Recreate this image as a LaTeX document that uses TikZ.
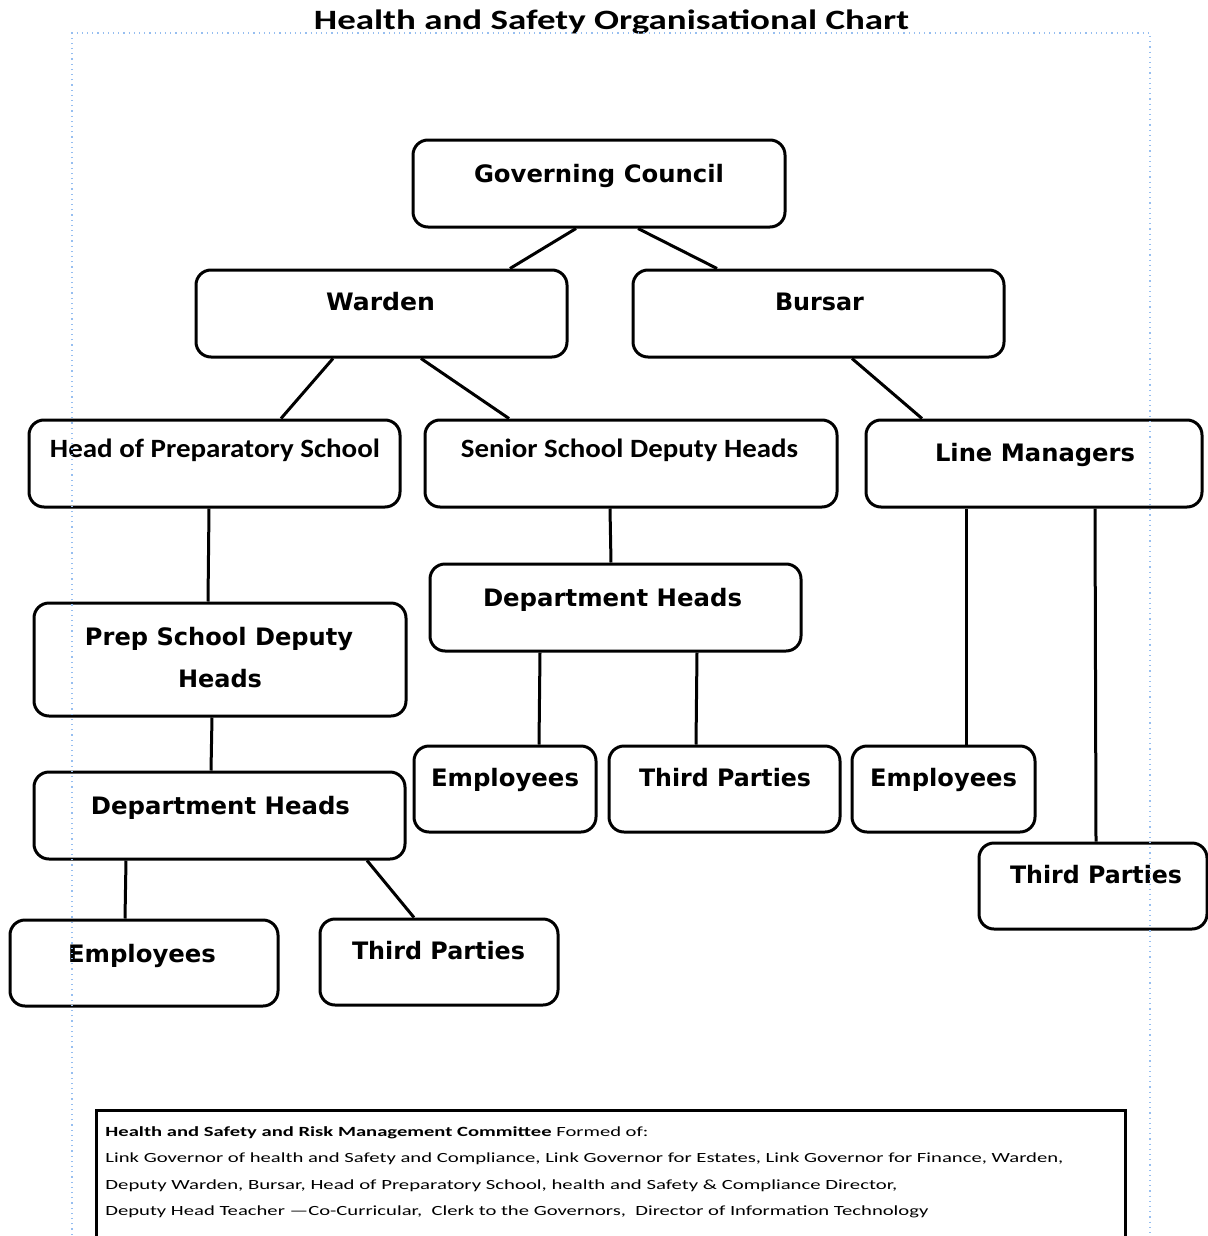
\documentclass[tikz,border=0pt]{standalone}
\usepackage{fontspec}
\setmainfont{Carlito}
\newfontfamily\boxfont{DejaVu Sans}
\newcommand{\fitw}[2]{\resizebox{#1}{\height}{#2}}
\definecolor{guide}{RGB}{150,190,240}
\begin{document}
\begin{tikzpicture}[x=0.5pt,y=-0.5pt,
  box/.style={draw, line width=1.5pt, rounded corners=7.5pt, inner sep=0pt},
  conn/.style={line width=1.5pt},
  bl/.style={anchor=base, inner sep=0pt, font=\boxfont\bfseries\fontsize{12}{14}\selectfont},
  cl/.style={anchor=base, inner sep=0pt, font=\bfseries\fontsize{13.2}{15}\selectfont},
  nl/.style={anchor=base west, inner sep=0pt, font=\fontsize{7}{8}\selectfont},
  guideline/.style={draw=guide, dotted, line width=0.6pt}]
\useasboundingbox (0,0) rectangle (1208,1236);
\clip (0,0) rectangle (1208,1236);

% title
\node[anchor=base, inner sep=0pt, font=\bfseries\fontsize{14}{16}\selectfont] (title) at (611.5,30) {\fitw{297.5pt}{Health and Safety Organisational Chart}};

% boxes
\node[box, minimum width=186pt, minimum height=43.5pt] (gc) at (599,183.5) {};
\node[box, minimum width=185.5pt, minimum height=43.5pt] (wa) at (381.5,313.5) {};
\node[box, minimum width=185.5pt, minimum height=43.5pt] (bu) at (818.5,313.5) {};
\node[box, minimum width=185.5pt, minimum height=43.5pt] (hops) at (214.5,463.5) {};
\node[box, minimum width=206pt, minimum height=43.5pt] (ssdh) at (631,463.5) {};
\node[box, minimum width=168pt, minimum height=43.5pt] (lm) at (1034,463.5) {};
\node[box, minimum width=186pt, minimum height=56.5pt] (psdh) at (220,659.5) {};
\node[box, minimum width=185.5pt, minimum height=43.5pt] (dhm) at (615.5,607.5) {};
\node[box, minimum width=185.5pt, minimum height=43.5pt] (dhl) at (219.5,815.5) {};
\node[box, minimum width=91pt, minimum height=43pt] (em) at (505,789) {};
\node[box, minimum width=115.5pt, minimum height=43pt] (tm) at (724.5,789) {};
\node[box, minimum width=91.5pt, minimum height=43pt] (er) at (943.5,789) {};
\node[box, minimum width=114pt, minimum height=43pt] (tr) at (1093,886) {};
\node[box, minimum width=134pt, minimum height=43pt] (el) at (144,963) {};
\node[box, minimum width=119pt, minimum height=43pt] (tl) at (439,962) {};

% labels
\node[bl] (gc-t) at (599,182) {\fitw{125pt}{Governing Council}};
\node[bl] (wa-t) at (380.5,310) {\fitw{54.5pt}{Warden}};
\node[bl] (bu-t) at (819.5,310) {\fitw{44.5pt}{Bursar}};
\node[cl] (hops-t) at (215,457) {\fitw{165pt}{Head of Preparatory School}};
\node[cl] (ssdh-t) at (629.5,457) {\fitw{168.5pt}{Senior School Deputy Heads}};
\node[bl] (lm-t) at (1035,461) {\fitw{100pt}{Line Managers}};
\node[bl] (psdh-t1) at (219,645) {\fitw{134pt}{Prep School Deputy}};
\node[bl] (psdh-t2) at (220,687) {\fitw{42pt}{Heads}};
\node[bl] (dhm-t) at (612.5,606) {\fitw{129.5pt}{Department Heads}};
\node[bl] (dhl-t) at (220.5,814) {\fitw{129.5pt}{Department Heads}};
\node[bl] (em-t) at (505,786) {\fitw{74pt}{Employees}};
\node[bl] (tm-t) at (725,786) {\fitw{86pt}{Third Parties}};
\node[bl] (er-t) at (943.5,786) {\fitw{73.5pt}{Employees}};
\node[bl] (tr-t) at (1096,883) {\fitw{86pt}{Third Parties}};
\node[bl] (el-t) at (142,962) {\fitw{74pt}{Employees}};
\node[bl] (tl-t) at (438.5,959) {\fitw{86.5pt}{Third Parties}};

% connectors
\draw[conn] (gc.south -| 576,0) -- (wa.north -| 510,0);
\draw[conn] (gc.south -| 638,0) -- (bu.north -| 717,0);
\draw[conn] (wa.south -| 333,0) -- (hops.north -| 281,0);
\draw[conn] (wa.south -| 421,0) -- (ssdh.north -| 509,0);
\draw[conn] (bu.south -| 852,0) -- (lm.north -| 922,0);
\draw[conn] (hops.south -| 209,0) -- (psdh.north -| 208,0);
\draw[conn] (ssdh.south -| 610,0) -- (dhm.north -| 611,0);
\draw[conn] (psdh.south -| 212,0) -- (dhl.north -| 211,0);
\draw[conn] (dhm.south -| 540,0) -- (em.north -| 539,0);
\draw[conn] (dhm.south -| 697,0) -- (tm.north -| 696,0);
\draw[conn] (lm.south -| 966,0) -- (er.north -| 966,0);
\draw[conn] (lm.south -| 1095,0) -- (tr.north -| 1096,0);
\draw[conn] (dhl.south -| 126,0) -- (el.north -| 125,0);
\draw[conn] (dhl.south -| 367,0) -- (tl.north -| 414,0);

% committee box
\node[draw, line width=1.5pt, inner sep=0pt, minimum width=514.5pt, minimum height=70pt] (comm) at (610.5,1180) {};
\node[nl] (comm-1) at (105,1136) {\fitw{271.5pt}{\textbf{Health and Safety and Risk Management Committee} Formed of:}};
\node[nl] (comm-2) at (105,1162) {\fitw{479pt}{Link Governor of health and Safety and Compliance, Link Governor for Estates, Link Governor for Finance, Warden,}};
\node[nl] (comm-3) at (105,1189) {\fitw{396pt}{Deputy Warden, Bursar, Head of Preparatory School, health and Safety \& Compliance Director,}};
\node[nl] (comm-4) at (105,1215) {\fitw{411.5pt}{Deputy Head Teacher —Co-Curricular,~ Clerk to the Governors,~ Director of Information Technology}};

% page guide (dotted)
\draw[guideline] (72,1240) -- (72,33) -- (1150,33) -- (1150,1240);
\end{tikzpicture}
\end{document}
